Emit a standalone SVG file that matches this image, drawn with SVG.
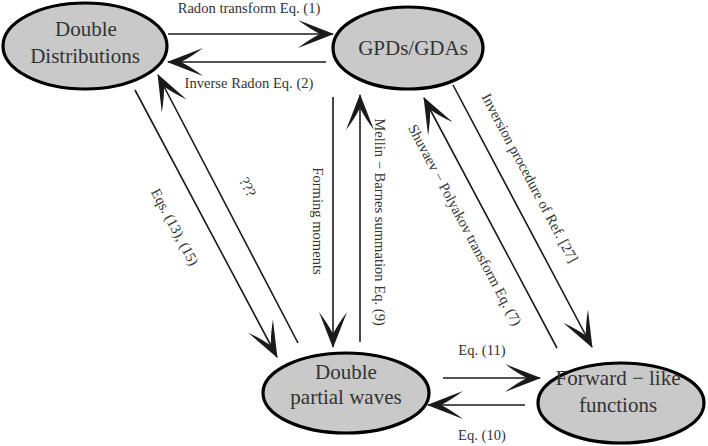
<svg xmlns="http://www.w3.org/2000/svg" width="708" height="446" viewBox="0 0 708 446">
<style>
.node ellipse{fill:#c9c9c9;stroke:#000;stroke-width:3.2}
.nt{font-family:'Liberation Serif','Times New Roman',serif;font-size:21px;fill:#333;text-anchor:middle}
.lbl{font-family:'Liberation Serif','Times New Roman',serif;font-size:14.6px;fill:#333;text-anchor:middle}
.conn line{stroke:#1a1a1a;stroke-width:1.6;fill:none;marker-end:url(#ah)}
</style>
<defs>
<marker id="ah" viewBox="-37 -15 39 30" markerWidth="39" markerHeight="30" refX="0" refY="0" markerUnits="userSpaceOnUse" orient="auto">
<path d="M1,0 Q-17,-7 -35,-14 Q-23,-5 -13,0 Q-23,5 -35,14 Q-17,7 1,0 Z" fill="#1a1a1a"/>
</marker>
</defs>
<g id="dd" class="node">
<ellipse cx="85" cy="46" rx="82" ry="43"/>
<text class="nt" x="86" y="36">Double</text>
<text class="nt" x="85" y="63">Distributions</text>
</g>
<g id="gpd" class="node">
<ellipse cx="408" cy="48" rx="75" ry="41"/>
<text class="nt" x="413" y="55">GPDs/GDAs</text>
</g>
<g id="dpw" class="node">
<ellipse cx="346" cy="393" rx="83" ry="40"/>
<text class="nt" x="346" y="379">Double</text>
<text class="nt" x="346" y="404">partial waves</text>
</g>
<g id="flf" class="node">
<ellipse cx="621" cy="403" rx="83" ry="40"/>
<text class="nt" x="618" y="385">Forward − like</text>
<text class="nt" x="618" y="412">functions</text>
</g>
<g id="connectors" class="conn">
<line x1="168" y1="34" x2="333" y2="34"/>
<line x1="326" y1="62" x2="168" y2="62"/>
<line x1="135" y1="90" x2="277" y2="357"/>
<line x1="298" y1="343" x2="158" y2="75"/>
<line x1="333" y1="97" x2="333" y2="347"/>
<line x1="360" y1="342" x2="360" y2="95"/>
<line x1="453" y1="85" x2="592" y2="347"/>
<line x1="557" y1="348" x2="424" y2="98"/>
<line x1="443" y1="378" x2="540" y2="378"/>
<line x1="525" y1="405" x2="428" y2="405"/>
</g>
<g id="labels">
<text class="lbl" x="249" y="13">Radon transform Eq. (1)</text>
<text class="lbl" x="249" y="88">Inverse Radon Eq. (2)</text>
<text class="lbl" transform="translate(175,227) rotate(62)" y="5">Eqs. (13), (15)</text>
<text class="lbl" transform="translate(248,187) rotate(62)" y="5">???</text>
<text class="lbl" transform="translate(318,221) rotate(90)" y="5">Forming moments</text>
<text class="lbl" transform="translate(380,222) rotate(90)" y="5">Mellin − Barnes summation Eq. (9)</text>
<text class="lbl" transform="translate(530,178) rotate(62)" y="5">Inversion procedure of Ref. [27]</text>
<text class="lbl" transform="translate(465,225) rotate(62)" y="5">Shuvaev − Polyakov transform Eq. (7)</text>
<text class="lbl" x="482" y="355">Eq. (11)</text>
<text class="lbl" x="482" y="440">Eq. (10)</text>
</g>
</svg>
